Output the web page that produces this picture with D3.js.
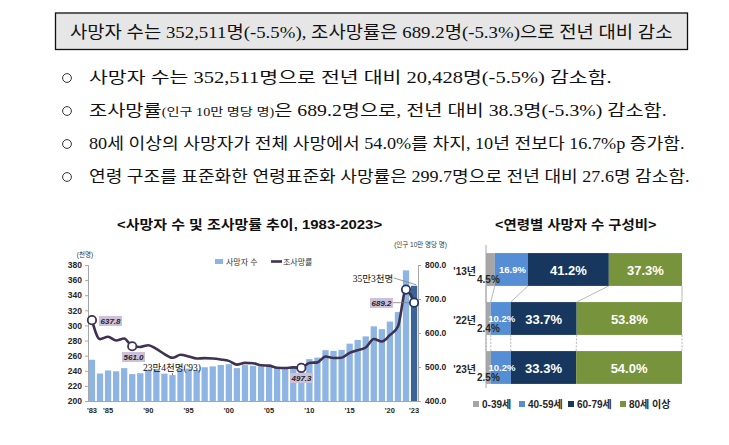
<!DOCTYPE html>
<html>
<head>
<meta charset="utf-8">
<script src="https://cdn.jsdelivr.net/npm/d3@7"></script>
<style>
    body { margin: 0; background: #fff; }
    svg { display: block; }
    .serif { font-family: "Liberation Serif", "Noto Sans CJK KR", serif; }
    .sans { font-family: "Liberation Sans", "Noto Sans CJK KR", sans-serif; }
</style>
</head>
<body>
<div class="report"></div>
<script>
// Death counts (thousands) and crude death rate (per 100k), 1983-2023
const years = d3.range(1983, 2024)
const deaths = [
    254.6, 236.4, 240.4, 239.3, 243.5, 235.6, 236.8, 241.6, 242.3, 236.2,
    234.3, 242.4, 242.8, 241.1, 244.7, 245.8, 247.7, 248.7, 243.5, 247.5,
    246.5, 245.8, 245.9, 244.2, 245.0, 246.1, 246.9, 255.4, 257.4, 267.2,
    266.3, 267.7, 275.9, 280.8, 285.5, 298.8, 295.1, 305.1, 317.7, 372.9,
    352.5
]
const rates = [
    637.8, 582, 589, 578, 584, 561.0, 559, 564, 553, 538,
    527, 536, 531, 525, 526, 525, 522, 518, 507, 512,
    511, 505, 504, 498, 497, 499, 497.3, 512.0, 513.6, 530.8,
    526.6, 527.3, 541.5, 549.4, 557.3, 582.5, 574.8, 593.9, 619.0, 727.6,
    689.2
]
const xTickYears = [1983, 1985, 1990, 1995, 2000, 2005, 2010, 2015, 2020, 2023]
const leftTicks = [200, 220, 240, 260, 280, 300, 320, 340, 360, 380]
const rightTicks = [400, 500, 600, 700, 800]
const markedYears = [1983, 1988, 2009, 2022, 2023]
const labelledYears = [1983, 1988, 2009, 2023]

// Age composition of deaths (%)
const compYears = ["'13년", "'22년", "'23년"]
const ageGroups = ["0-39세", "40-59세", "60-79세", "80세 이상"]
const age0_39 = [4.5, 2.4, 2.5]
const age40_59 = [16.9, 10.2, 10.2]
const age60_79 = [41.2, 33.7, 33.3]
const age80 = [37.3, 53.8, 54.0]
const ageCols = ["#A6A6A6", "#558ED5", "#17375E", "#77933C"]

// Summary text
const headline = "사망자 수는 352,511명(-5.5%),  조사망률은 689.2명(-5.3%)으로 전년 대비 감소"
const bullets = [
    [["사망자 수는 352,511명으로 전년 대비 20,428명(-5.5%) 감소함.", 16]],
    [["조사망률", 16], ["(인구 10만 명당 명)", 11.5], ["은 689.2명으로, 전년 대비 38.3명(-5.3%) 감소함.", 16]],
    [["80세 이상의 사망자가 전체 사망에서 54.0%를 차지, 10년 전보다 16.7%p 증가함.", 16]],
    [["연령 구조를 표준화한 연령표준화 사망률은 299.7명으로 전년 대비 27.6명 감소함.", 16]]
]
const bulletEnds = [612, 667, 685, 690]

const svg = d3.select('.report')
    .append('svg')
    .attr('width', 729)
    .attr('height', 445)

// squeeze a text group between x0 and x1
function fitLine(g, x0, x1, y) {
    const bb = g.node().getBBox()
    const k = (x1 - x0) / bb.width
    g.attr('transform', 'translate(' + (x0 - bb.x * k) + ',' + y + ') scale(' + k + ',1)')
}

// Headline box
svg.append('rect')
    .attr('x', 55.5).attr('y', 13)
    .attr('width', 632).attr('height', 36.5)
    .attr('fill', '#E6E6E6')
    .attr('stroke', '#111')
    .attr('stroke-width', 1.3)

var head = svg.append('g')
head.append('text')
    .attr('class', 'serif')
    .attr('font-size', 17)
    .attr('fill', '#111')
    .text(headline)
fitLine(head, 70, 673, 38)

// Bullet lines
bullets.forEach(function (parts, i) {
    const y = 83 + i * 33
    svg.append('circle')
        .attr('cx', 67).attr('cy', y - 5)
        .attr('r', 4.4)
        .attr('fill', 'none')
        .attr('stroke', '#333')
        .attr('stroke-width', 1)
    var g = svg.append('g')
    var t = g.append('text')
        .attr('class', 'serif')
        .attr('fill', '#111')
    parts.forEach(function (p) {
        t.append('tspan').attr('font-size', p[1]).text(p[0])
    })
    fitLine(g, 89, bulletEnds[i], y)
})

// ---- Left chart: deaths & crude death rate ----
var t1 = svg.append('g')
t1.append('text')
    .attr('class', 'sans')
    .attr('font-size', 13)
    .attr('font-weight', 'bold')
    .attr('fill', '#111')
    .text('<사망자 수 및 조사망률 추이, 1983-2023>')
fitLine(t1, 117, 383, 229)

const x = d3.scaleBand()
    .domain(years)
    .range([88, 418])
    .paddingInner(0.22)
    .paddingOuter(0.1)

const yL = d3.scaleLinear().domain([200, 380]).range([401, 265])
const yR = d3.scaleLinear().domain([400, 800]).range([401, 265])

const left = svg.append('g').attr('class', 'sans')

left.append('text')
    .attr('x', 85).attr('y', 257)
    .attr('text-anchor', 'middle')
    .attr('font-size', 6.5)
    .attr('fill', '#333')
    .text('(천명)')

left.append('text')
    .attr('x', 447).attr('y', 247)
    .attr('text-anchor', 'end')
    .attr('font-size', 6.5)
    .attr('fill', '#333')
    .text('(인구 10만 명당 명)')

left.selectAll('rect.bar')
    .data(years)
    .enter()
    .append('rect')
    .attr('class', 'bar')
    .attr('x', d => x(d))
    .attr('width', x.bandwidth())
    .attr('y', (d, i) => yL(deaths[i]))
    .attr('height', (d, i) => yL(200) - yL(deaths[i]))
    .attr('fill', d => d == 2023 ? '#3A6496' : '#8DB4E2')

var axL = left.append('g')
    .attr('transform', 'translate(88,0)')
    .call(d3.axisLeft(yL).tickValues(leftTicks).tickSize(3).tickPadding(3))
var axR = left.append('g')
    .attr('transform', 'translate(418,0)')
    .call(d3.axisRight(yR).tickValues(rightTicks).tickFormat(d3.format('.1f')).tickSize(3).tickPadding(4))

;[axL, axR].forEach(function (ax) {
    ax.selectAll('path, line').attr('stroke', '#A6A6A6')
    ax.selectAll('text')
        .attr('font-size', 8.5)
        .attr('font-weight', 'bold')
        .attr('fill', '#262626')
        .style('font-family', '"Liberation Sans", Arial, sans-serif')
})

left.append('line')
    .attr('x1', 88).attr('x2', 418)
    .attr('y1', 401.5).attr('y2', 401.5)
    .attr('stroke', '#A6A6A6')

var axB = left.append('g')
    .attr('transform', 'translate(0,405)')
    .call(d3.axisBottom(x).tickValues(xTickYears).tickSize(0).tickFormat(d => "'" + String(d).slice(2)))
axB.select('.domain').remove()
axB.selectAll('text')
    .attr('font-size', 7.5)
    .attr('font-weight', 'bold')
    .attr('fill', '#262626')

// rate line
const line = d3.line()
    .x((d, i) => x(years[i]) + x.bandwidth() / 2)
    .y(d => yR(d))
    .curve(d3.curveMonotoneX)

left.append('path')
    .datum(rates)
    .attr('d', line)
    .attr('fill', 'none')
    .attr('stroke', '#3F3151')
    .attr('stroke-width', 2.6)

const px = yr => x(yr) + x.bandwidth() / 2
const py = yr => yR(rates[years.indexOf(yr)])

// annotations: leader lines first
left.append('line')
    .attr('x1', 393).attr('y1', py(2023))
    .attr('x2', px(2023)).attr('y2', py(2023))
    .attr('stroke', '#7F7F7F').attr('stroke-width', 0.8)
left.append('line')
    .attr('x1', 394).attr('y1', 278)
    .attr('x2', x(2023) + x.bandwidth() - 1).attr('y2', yL(deaths[40]) - 1)
    .attr('stroke', '#7F7F7F').attr('stroke-width', 0.8)
left.append('line')
    .attr('x1', px(1993)).attr('y1', 373)
    .attr('x2', px(1993)).attr('y2', yL(deaths[10]))
    .attr('stroke', '#595959').attr('stroke-width', 0.8)

left.selectAll('circle.mark')
    .data(markedYears)
    .enter()
    .append('circle')
    .attr('class', 'mark')
    .attr('cx', px)
    .attr('cy', py)
    .attr('r', 4.2)
    .attr('fill', '#fff')
    .attr('stroke', d => (d == 2022 || d == 2023) ? '#1F3864' : '#3F3151')
    .attr('stroke-width', 1.8)

const labelBox = { 1983: [99, 316], 1988: [122, 352], 2009: [290, 373], 2023: [370, 298] }
labelledYears.forEach(function (yr) {
    const b = labelBox[yr]
    left.append('rect')
        .attr('x', b[0]).attr('y', b[1])
        .attr('width', 23).attr('height', 10)
        .attr('fill', '#CCC0DA')
    left.append('text')
        .attr('x', b[0] + 11.5).attr('y', b[1] + 8)
        .attr('text-anchor', 'middle')
        .attr('font-size', 8)
        .attr('font-weight', 'bold')
        .attr('font-style', 'italic')
        .attr('fill', '#262626')
        .text(d3.format('.1f')(rates[years.indexOf(yr)]))
})

left.append('text')
    .attr('class', 'serif')
    .attr('x', 172).attr('y', 371)
    .attr('text-anchor', 'middle')
    .attr('font-size', 9.5)
    .attr('fill', '#111')
    .text("23만4천명('93)")
left.append('text')
    .attr('class', 'serif')
    .attr('x', 373).attr('y', 282)
    .attr('text-anchor', 'middle')
    .attr('font-size', 9.5)
    .attr('fill', '#111')
    .text('35만3천명')

// legend
left.append('rect')
    .attr('x', 215).attr('y', 259)
    .attr('width', 8).attr('height', 5)
    .attr('fill', '#8DB4E2')
left.append('text')
    .attr('x', 226).attr('y', 265)
    .attr('font-size', 8)
    .attr('fill', '#333')
    .text('사망자 수')
left.append('line')
    .attr('x1', 271).attr('x2', 282)
    .attr('y1', 261.5).attr('y2', 261.5)
    .attr('stroke', '#3F3151').attr('stroke-width', 2.6)
left.append('text')
    .attr('x', 283).attr('y', 265)
    .attr('font-size', 8)
    .attr('fill', '#333')
    .text('조사망률')

// ---- Right chart: composition by age ----
var t2 = svg.append('g')
t2.append('text')
    .attr('class', 'sans')
    .attr('font-size', 13)
    .attr('font-weight', 'bold')
    .attr('fill', '#111')
    .text('<연령별 사망자 수 구성비>')
fitLine(t2, 495, 657, 229)

const comp = compYears.map(function (yr, i) {
    return { yr: yr, a: age0_39[i], b: age40_59[i], c: age60_79[i], d: age80[i] }
})
const keys = ['a', 'b', 'c', 'd']
const stacked = d3.stack().keys(keys).offset(d3.stackOffsetExpand)(comp)

const xs = d3.scaleLinear().domain([0, 1]).range([486, 682])
const ys = d3.scaleBand()
    .domain(compYears)
    .range([245, 392])
    .paddingInner(0.33)
    .paddingOuter(0.165)

const right = svg.append('g').attr('class', 'sans')

// connector lines between bars
for (let i = 0; i < compYears.length - 1; i++) {
    const bounds = [0].concat(stacked.slice(0, 3).map(s => s[i][1])).concat([1])
    const next = [0].concat(stacked.slice(0, 3).map(s => s[i + 1][1])).concat([1])
    bounds.forEach(function (v, j) {
        right.append('line')
            .attr('x1', xs(v)).attr('y1', ys(compYears[i]) + ys.bandwidth())
            .attr('x2', xs(next[j])).attr('y2', ys(compYears[i + 1]))
            .attr('stroke', '#A6A6A6')
            .attr('stroke-width', 0.8)
            .attr('stroke-dasharray', i == 0 ? null : '2,1.5')
    })
}

right.append('line')
    .attr('x1', 486).attr('x2', 486)
    .attr('y1', 245).attr('y2', 388)
    .attr('stroke', '#A6A6A6')

stacked.forEach(function (s, k) {
    right.selectAll('rect.s' + k)
        .data(s)
        .enter()
        .append('rect')
        .attr('class', 's' + k)
        .attr('x', d => xs(d[0]))
        .attr('width', d => xs(d[1]) - xs(d[0]))
        .attr('y', d => ys(d.data.yr))
        .attr('height', ys.bandwidth())
        .attr('fill', ageCols[k])
})

// segment labels
stacked.forEach(function (s, k) {
    s.forEach(function (d, i) {
        const v = d.data[keys[k]]
        const lbl = d3.format('.1f')(v) + '%'
        if (k == 0) {
            right.append('text')
                .attr('x', 477).attr('y', ys(d.data.yr) + 29.5)
                .attr('font-size', 10)
                .attr('font-weight', 'bold')
                .attr('fill', '#262626')
                .text(lbl)
        } else {
            right.append('text')
                .attr('x', (xs(d[0]) + xs(d[1])) / 2 + (k == 1 ? 1 : 0))
                .attr('y', ys(d.data.yr) + ys.bandwidth() / 2 + (k == 1 ? 3.5 : 5))
                .attr('text-anchor', 'middle')
                .attr('font-size', k == 1 ? 9.5 : 13)
                .attr('font-weight', 'bold')
                .attr('fill', '#fff')
                .text(lbl)
        }
    })
})

right.selectAll('text.yr')
    .data(compYears)
    .enter()
    .append('text')
    .attr('class', 'yr')
    .attr('x', 476)
    .attr('y', d => ys(d) + 22)
    .attr('text-anchor', 'end')
    .attr('font-size', 10)
    .attr('font-weight', 'bold')
    .attr('fill', '#262626')
    .text(d => d)

// legend
const legX = [473, 519, 568, 620]
var leg = right.selectAll('g.leg')
    .data(ageGroups)
    .enter()
    .append('g')
    .attr('class', 'leg')
    .attr('transform', (d, i) => 'translate(' + legX[i] + ',401)')
leg.append('rect')
    .attr('width', 6).attr('height', 6)
    .attr('fill', (d, i) => ageCols[i])
leg.append('text')
    .attr('x', 9).attr('y', 7)
    .attr('font-size', 10)
    .attr('font-weight', 'bold')
    .attr('fill', '#262626')
    .text(d => d)
</script>
</body>
</html>
